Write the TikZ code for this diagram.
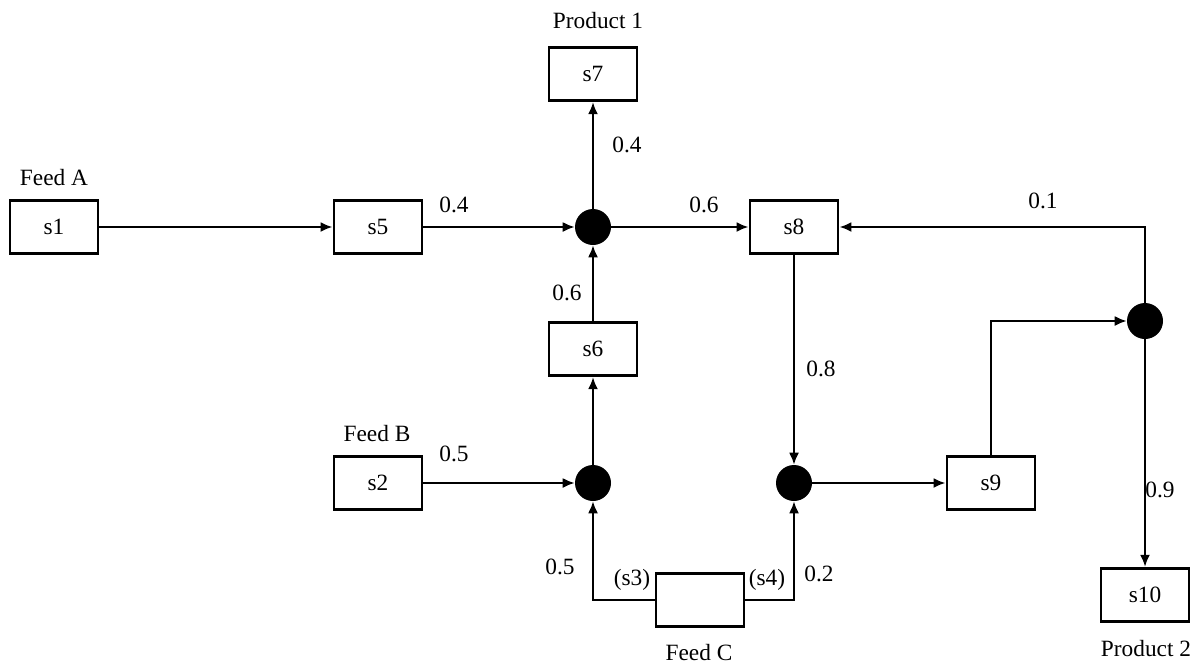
\documentclass[tikz,border=0pt]{standalone}
\usepackage{fontspec}
\setmainfont{Liberation Serif}
\usetikzlibrary{arrows.meta}
\begin{document}
\begin{tikzpicture}[x=0.75pt,y=-0.75pt,
  font=\fontsize{17.5}{20}\selectfont,
  unit/.style={draw,line width=2.2pt,minimum width=66pt,minimum height=40pt,inner sep=0pt},
  mix/.style={circle,fill=black,minimum size=27pt,inner sep=0pt},
  flow/.style={line width=1.6pt,-{Latex[length=9pt,width=7.5pt]}},
  lbl/.style={anchor=base,inner sep=0pt}]
\useasboundingbox (0,0) rectangle (1204,664);
% units
\node[unit] (s1) at (54,227) {s1};
\node[unit] (s5) at (378,227) {s5};
\node[unit] (s7) at (593,74) {s7};
\node[unit] (s8) at (794,227) {s8};
\node[unit] (s6) at (593,349) {s6};
\node[unit] (s2) at (378,483) {s2};
\node[unit] (s9) at (991,483) {s9};
\node[unit] (s10) at (1145,595) {s10};
\node[unit] (fc) at (700,600) {};
% mixers / splitters
\node[mix] (j1) at (593,227) {};
\node[mix] (j2) at (593,483) {};
\node[mix] (j3) at (794,483) {};
\node[mix] (j4) at (1145,321) {};
% connectors
\draw[flow] (s1) -- (s5);
\draw[flow] (s5) -- (j1);
\draw[flow] (j1) -- (s8);
\draw[flow] (j1) -- (s7);
\draw[flow] (s6) -- (j1);
\draw[flow] (j2) -- (s6);
\draw[flow] (s2) -- (j2);
\draw[flow] (fc.west) -| (j2);
\draw[flow] (fc.east) -| (j3);
\draw[flow] (s8) -- (j3);
\draw[flow] (j3) -- (s9);
\draw[flow] (s9.north) |- (j4);
\draw[flow] (j4) |- (s8);
\draw[flow] (j4) -- (s10);
% labels
\node[lbl] (tA) at (54,185) {Feed A};
\node[lbl] (tP1) at (598,28) {Product 1};
\node[lbl] (tB) at (377,441) {Feed B};
\node[lbl] (tC) at (699,660) {Feed C};
\node[lbl] (tP2) at (1146,656) {Product 2};
\node[lbl] (f1) at (627,152) {0.4};
\node[lbl] (f2) at (454,212) {0.4};
\node[lbl] (f3) at (704,212) {0.6};
\node[lbl] (f4) at (1043,208) {0.1};
\node[lbl] (f5) at (567,300) {0.6};
\node[lbl] (f6) at (821,376) {0.8};
\node[lbl] (f7) at (454,461) {0.5};
\node[lbl] (f8) at (560,574) {0.5};
\node[lbl] (f9) at (819,581) {0.2};
\node[lbl] (f10) at (1160,497) {0.9};
\node[lbl] (t3) at (632,585) {(s3)};
\node[lbl] (t4) at (767,585) {(s4)};
\end{tikzpicture}
\end{document}
